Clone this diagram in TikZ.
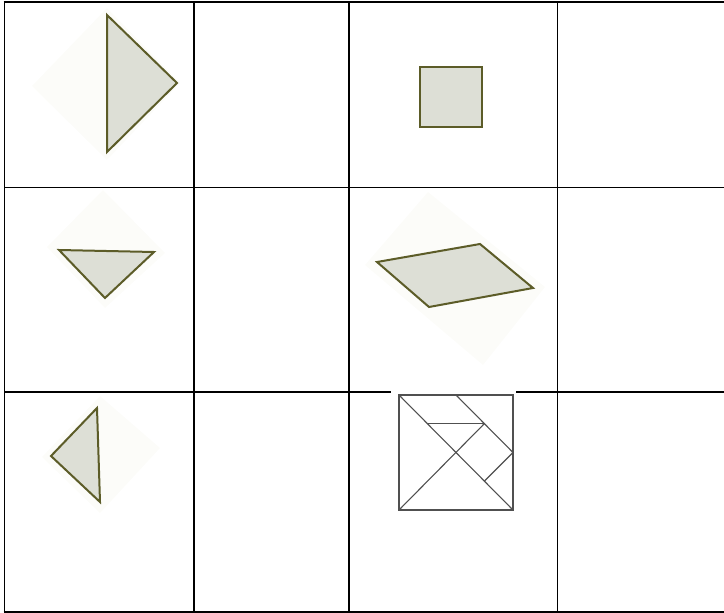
\documentclass[tikz,border=0pt]{standalone}
\usepackage{xcolor}
\usetikzlibrary{calc}
\definecolor{pieceFill}{RGB}{221,223,214}
\definecolor{pieceEdge}{RGB}{92,92,40}
\definecolor{pieceShade}{RGB}{252,252,249}
\definecolor{tangramLine}{RGB}{80,80,80}

\begin{document}
\begin{tikzpicture}[x=1pt,y=-1pt,line join=miter]
\useasboundingbox (0,0) rectangle (724,613);
\tikzset{piece/.style={draw=pieceEdge,fill=pieceFill,line width=2pt},
         shade/.style={fill=pieceShade,draw=none}}
% table grid
\draw[line width=2pt] (3.5,2) -- (724,2);
\draw[line width=2pt] (3.5,612) -- (724,612);
\draw[line width=1.1pt] (4.5,1) -- (4.5,613);
\draw[line width=2pt] (194.3,1) -- (194.3,613);
\draw[line width=1.1pt] (349,1) -- (349,613);
\draw[line width=1.1pt] (557.2,1) -- (557.2,613);
\draw[line width=1.1pt] (4,187.5) -- (724,187.5);
\draw[line width=1.1pt] (4,392) -- (724,392);
% row 1
\fill[shade] (107,8) -- (180,83) -- (107,160) -- (32,86) -- cycle;
\draw[piece] (107,15) -- (177,83) -- (107,152) -- cycle;
\draw[piece,line width=2.4pt] (420,67) rectangle (482,127);
% row 2
\fill[shade] (103,190) -- (165,253) -- (105,308) -- (47,247) -- cycle;
\draw[piece] (59,250) -- (154,252) -- (105,298) -- cycle;
\fill[shade] (428,192) -- (545,287) -- (483,365) -- (365,265) -- cycle;
\draw[piece] (377,262) -- (480,244) -- (533,288) -- (429,307) -- cycle;
% row 3
\fill[shade] (100,396) -- (160,448) -- (100,513) -- (42,457) -- cycle;
\draw[piece] (97,408) -- (51,456) -- (100,502) -- cycle;
% tangram
\fill[white] (391,389) rectangle (516,395);
\coordinate (tl) at (399,395);
\coordinate (tr) at (513,395);
\coordinate (br) at (513,510);
\coordinate (bl) at (399,510);
\coordinate (topmid) at (456,395);
\coordinate (rightmid) at (513,452.5);
\coordinate (p) at (484.5,423.5);
\coordinate (q) at (427.5,423.5);
\coordinate (s) at (484.5,481);
\begin{scope}[draw=tangramLine,line width=1.1pt]
\draw (tl) rectangle (br);
\draw (tl) -- (br);
\draw (bl) -- (p);
\draw (q) -- (p);
\draw (topmid) -- (rightmid) -- (s);
\end{scope}
\end{tikzpicture}
\end{document}
